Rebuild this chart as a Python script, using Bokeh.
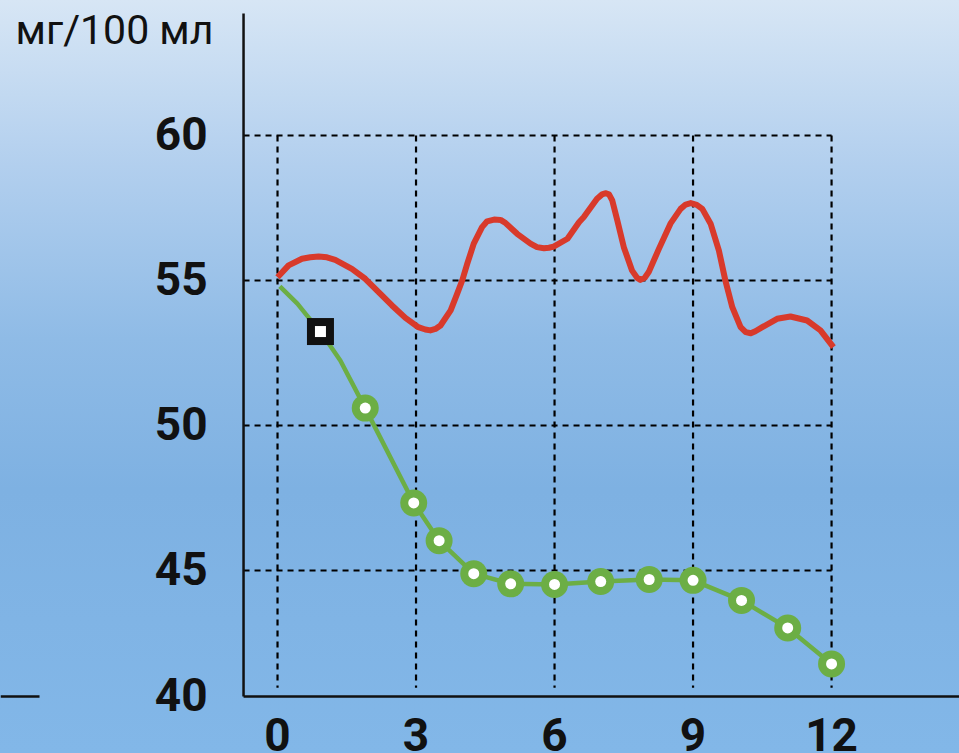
from bokeh.plotting import figure
from bokeh.models import Range1d
from bokeh.core.properties import value
from bokeh.embed import file_html
from bokeh.resources import INLINE

# ---------------- data ----------------
unit_label = "мг/100 мл"
x_ticks = [0, 3, 6, 9, 12]
y_ticks = [40, 45, 50, 55, 60]
grid_y = [45, 50, 55, 60]

red_x = [0.00, 0.24, 0.53, 0.71, 0.89, 1.07, 1.25, 1.61, 1.90, 2.19, 2.48, 2.77, 3.05,
         3.20, 3.31, 3.42, 3.53, 3.75, 3.89, 4.00, 4.11, 4.25, 4.43, 4.54, 4.69, 4.83,
         4.94, 5.19, 5.48, 5.62, 5.77, 5.88, 5.98, 6.28, 6.53, 6.63, 6.92, 7.03, 7.10,
         7.18, 7.25, 7.36, 7.50, 7.68, 7.79, 7.86, 7.95, 8.04, 8.26, 8.51, 8.73, 8.84,
         8.95, 9.08, 9.20, 9.38, 9.56, 9.70, 9.85, 10.03, 10.14, 10.25, 10.35, 10.50,
         10.82, 11.11, 11.47, 11.76, 12.04]
red_y = [55.11, 55.52, 55.75, 55.80, 55.83, 55.80, 55.71, 55.40, 55.06, 54.60, 54.14,
         53.71, 53.39, 53.31, 53.28, 53.33, 53.45, 53.97, 54.54, 55.00, 55.58, 56.27,
         56.84, 57.04, 57.10, 57.09, 56.98, 56.61, 56.27, 56.15, 56.11, 56.13, 56.17,
         56.44, 57.01, 57.18, 57.82, 57.97, 58.01, 57.97, 57.76, 57.07, 56.15, 55.34,
         55.09, 55.02, 55.09, 55.29, 56.09, 56.96, 57.47, 57.62, 57.67, 57.61, 57.47,
         56.96, 56.03, 55.00, 54.08, 53.39, 53.22, 53.18, 53.25, 53.39, 53.68, 53.76,
         53.62, 53.28, 52.70]

green_line_x = [0.05, 0.43, 0.67, 0.93, 1.36, 1.90, 2.95, 3.50, 4.25, 5.05, 6.00, 7.00,
                8.05, 9.00, 10.05, 11.05, 12.00]
green_line_y = [54.80, 54.20, 53.73, 53.24, 52.24, 50.60, 47.33, 46.03, 44.89, 44.54,
                44.52, 44.62, 44.69, 44.66, 43.97, 43.02, 41.78]

green_pt_x = [1.90, 2.95, 3.50, 4.25, 5.05, 6.00, 7.00, 8.05, 9.00, 10.05, 11.05, 12.00]
green_pt_y = [50.60, 47.33, 46.03, 44.89, 44.54, 44.52, 44.62, 44.69, 44.66, 43.97, 43.02, 41.78]

square_x = [0.93]
square_y = [53.24]

# ---------------- layout (data-space positions of the drawing) ----------------
X_START, X_END = -6.0, 14.771
Y_START, Y_END = 38.69, 64.655
AXIS_X = -0.736          # value axis position
AXIS_Y = 40.655          # bottom of the (broken) value axis, labelled "40"
AXIS_TOP = 64.207
SHORT_LINE_END = -5.155
GRID_BOTTOM = 40.955
YLABEL_X = -1.516
XLABEL_Y = 39.33
TITLE_X, TITLE_Y = -5.675, 63.655

INK = "#111111"
RED = "#d83a2b"
GREEN = "#6cae45"
NUM_FONT = "Roboto"

p = figure(width=959, height=753,
           x_range=Range1d(X_START, X_END), y_range=Range1d(Y_START, Y_END),
           x_axis_type=None, y_axis_type=None,
           output_backend="svg", toolbar_location=None,
           min_border=0, min_border_left=0, min_border_right=0,
           min_border_top=0, min_border_bottom=0,
           outline_line_color=None, background_fill_alpha=0, border_fill_alpha=0)
p.styles = {"background-image": "linear-gradient(to bottom, #d7e6f5 0%, #b2cfee 22%, "
                                "#8fbbe6 45%, #7eb1e2 65%, #82b7e8 100%)"}

# dashed grid
n = len(grid_y)
p.segment(x0=[AXIS_X] * n, y0=grid_y, x1=[max(x_ticks)] * n, y1=grid_y,
          line_color="#000000", line_width=2.2, line_dash="6 5")
m = len(x_ticks)
p.segment(x0=x_ticks, y0=[max(grid_y)] * m, x1=x_ticks, y1=[GRID_BOTTOM] * m,
          line_color="#000000", line_width=2.2, line_dash="6 5")

# axis lines
p.segment(x0=[AXIS_X, AXIS_X, X_START], y0=[AXIS_Y, AXIS_Y, AXIS_Y],
          x1=[AXIS_X, X_END, SHORT_LINE_END], y1=[AXIS_TOP, AXIS_Y, AXIS_Y],
          line_color=INK, line_width=2.5)

# series
p.line(red_x, red_y, line_color=RED, line_width=6, line_join="round")
p.line(green_line_x, green_line_y, line_color=GREEN, line_width=4.5, line_join="round")
p.scatter(green_pt_x, green_pt_y, marker="circle", size=27, fill_color=GREEN, line_color=None)
p.scatter(green_pt_x, green_pt_y, marker="circle", size=11, fill_color="white", line_color=None)
p.scatter(square_x, square_y, marker="square", size=27, fill_color=INK, line_color=None)
p.scatter(square_x, square_y, marker="square", size=11, fill_color="white", line_color=None)

# value-axis tick labels (lowest one sits on the axis end)
ylab_pos = [AXIS_Y if t == min(y_ticks) else t for t in y_ticks]
p.text(x=[YLABEL_X] * len(y_ticks), y=ylab_pos, text=[str(t) for t in y_ticks],
       text_align="right", text_baseline="middle", y_offset=-2,
       text_font=value(NUM_FONT), text_font_style="bold", text_font_size="46px",
       text_color=INK)

# x tick labels
p.text(x=x_ticks, y=[XLABEL_Y] * m, text=[str(t) for t in x_ticks],
       text_align="center", text_baseline="middle",
       text_font=value(NUM_FONT), text_font_style="bold", text_font_size="46px",
       text_color=INK)

# unit label
p.text(x=[TITLE_X], y=[TITLE_Y], text=[unit_label],
       text_align="left", text_baseline="middle",
       text_font=value("Roboto"), text_font_size="41px", text_color=INK)

open("out.html", "w").write(file_html(p, INLINE))
